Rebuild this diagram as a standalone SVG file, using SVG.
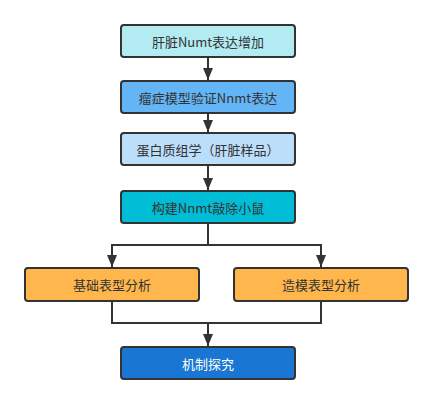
<svg xmlns="http://www.w3.org/2000/svg" width="433" height="404" viewBox="0 0 433 404">
<style>
.box{stroke:#333;stroke-width:2}
.t{font-family:"Noto Sans CJK SC","Liberation Sans",sans-serif;font-size:13px;fill:#333;text-anchor:middle;dominant-baseline:central}
.w{fill:#fff}
.c{fill:none;stroke:#333;stroke-width:2}
</style>
<defs>
<marker id="ah" markerWidth="12" markerHeight="10" refX="12" refY="5" orient="auto" markerUnits="userSpaceOnUse">
<path d="M0,0 L12,5 L0,10 Z" fill="#333"/>
</marker>
</defs>
<rect width="433" height="404" fill="#fff"/>
<g id="connectors">
<line class="c" x1="208" y1="58" x2="208" y2="80" marker-end="url(#ah)"/>
<line class="c" x1="208" y1="114" x2="208" y2="132" marker-end="url(#ah)"/>
<line class="c" x1="208" y1="166" x2="208" y2="190" marker-end="url(#ah)"/>
<polyline class="c" points="208,224 208,245 112,245 112,267" marker-end="url(#ah)"/>
<polyline class="c" points="208,245 321,245 321,267" marker-end="url(#ah)"/>
<polyline class="c" points="112,302 112,323 321,323 321,302"/>
<line class="c" x1="208" y1="323" x2="208" y2="346" marker-end="url(#ah)"/>
</g>
<g id="n1"><rect class="box" x="121" y="25" width="174" height="32" rx="3" fill="#b2ebf2"/><text class="t" x="208" y="41">肝脏Numt表达增加</text></g>
<g id="n2"><rect class="box" x="121" y="81" width="174" height="32" rx="3" fill="#64b5f6"/><text class="t" x="208" y="97">瘤症模型验证Nnmt表达</text></g>
<g id="n3"><rect class="box" x="121" y="133" width="174" height="32" rx="3" fill="#bbdefb"/><text class="t" x="208" y="149">蛋白质组学（肝脏样品）</text></g>
<g id="n4"><rect class="box" x="121" y="191" width="174" height="32" rx="3" fill="#00bcd4"/><text class="t" x="208" y="207">构建Nnmt敲除小鼠</text></g>
<g id="n5"><rect class="box" x="25" y="268" width="174" height="33" rx="3" fill="#ffb74d"/><text class="t" x="112" y="284.5">基础表型分析</text></g>
<g id="n6"><rect class="box" x="234" y="268" width="174" height="33" rx="3" fill="#ffb74d"/><text class="t" x="321" y="284.5">造模表型分析</text></g>
<g id="n7"><rect class="box" x="121" y="347" width="174" height="32" rx="3" fill="#1976d2"/><text class="t w" x="208" y="363">机制探究</text></g>
</svg>
